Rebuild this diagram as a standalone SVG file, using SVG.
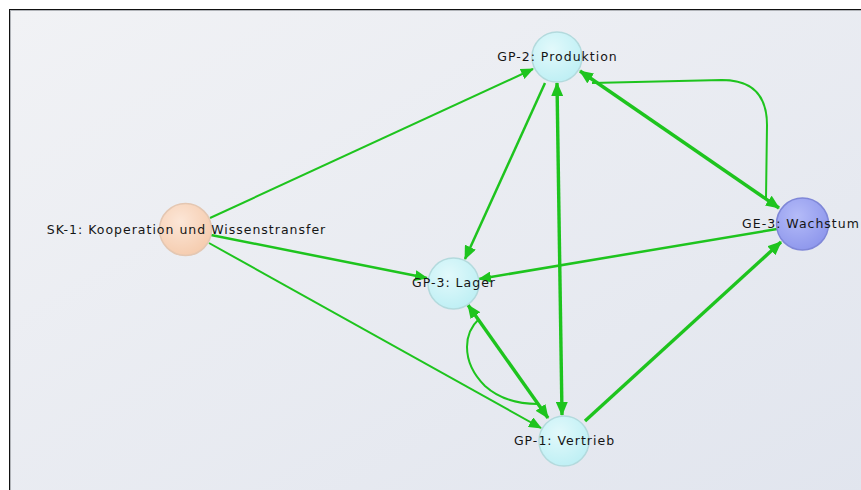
<svg xmlns="http://www.w3.org/2000/svg" width="861" height="490" viewBox="0 0 861 490">
<style>
.e{fill:none;stroke:#1ec41e;stroke-linejoin:round}
.t1{stroke-width:2}
.t2{stroke-width:2.5}
.t3{stroke-width:3.4}
.lbl{font-family:"DejaVu Sans",Verdana,sans-serif;font-size:12.5px;letter-spacing:1px;fill:#151515;text-anchor:middle}
.gp{fill:url(#gCyan);stroke:#b3dadd;stroke-width:1.5}
</style>
<defs>
<linearGradient id="bg" x1="0" y1="0" x2="1" y2="1">
<stop offset="0" stop-color="#f1f2f5"/>
<stop offset="1" stop-color="#e1e5ee"/>
</linearGradient>
<radialGradient id="gCyan" cx="0.4" cy="0.35" r="0.7">
<stop offset="0" stop-color="#e2f9fb"/>
<stop offset="1" stop-color="#bdeff4"/>
</radialGradient>
<radialGradient id="gPeach" cx="0.4" cy="0.35" r="0.7">
<stop offset="0" stop-color="#fce6d7"/>
<stop offset="1" stop-color="#f5cbad"/>
</radialGradient>
<radialGradient id="gBlue" cx="0.4" cy="0.35" r="0.7">
<stop offset="0" stop-color="#b4bbf8"/>
<stop offset="1" stop-color="#8d96ec"/>
</radialGradient>
<marker id="aL" markerUnits="userSpaceOnUse" markerWidth="15" markerHeight="12" refX="13" refY="6" orient="auto-start-reverse" viewBox="0 0 15 12">
<path d="M0,0 L14,6 L0,12 z" fill="#1ec41e"/>
</marker>
<marker id="aS" markerUnits="userSpaceOnUse" markerWidth="14" markerHeight="11" refX="12" refY="5.5" orient="auto-start-reverse" viewBox="0 0 14 11">
<path d="M0,0 L13,5.5 L0,11 z" fill="#1ec41e"/>
</marker>
</defs>
<rect x="0" y="0" width="861" height="490" fill="#ffffff"/>
<rect x="10" y="10" width="860" height="490" fill="url(#bg)"/>
<line x1="10" y1="10.5" x2="861" y2="10.5" stroke="#b0b3b8" stroke-width="1"/>
<line x1="10.5" y1="10" x2="10.5" y2="490" stroke="#b0b3b8" stroke-width="1"/>
<line x1="9" y1="9.5" x2="861" y2="9.5" stroke="#111" stroke-width="1"/>
<line x1="9.5" y1="9" x2="9.5" y2="490" stroke="#111" stroke-width="1"/>

<g id="connectors">
<line class="e t1" x1="210" y1="218" x2="533" y2="69" marker-end="url(#aS)"/>
<line class="e t2" x1="211" y1="235" x2="427" y2="278" marker-end="url(#aS)"/>
<line class="e t1" x1="209" y1="243" x2="541" y2="428" marker-end="url(#aS)"/>
<line class="e t2" x1="545" y1="83" x2="465" y2="259" marker-end="url(#aL)"/>
<line class="e t3" x1="557" y1="83" x2="562" y2="415" marker-start="url(#aL)" marker-end="url(#aL)"/>
<line class="e t3" x1="580" y1="71" x2="779" y2="208" marker-start="url(#aL)" marker-end="url(#aL)"/>
<path class="e t1" d="M766,198 L767,125 Q767,80 722,80 L592,83"/>
<line class="e t2" x1="777" y1="229" x2="479" y2="279" marker-end="url(#aS)"/>
<line class="e t3" x1="585" y1="421" x2="781" y2="242" marker-end="url(#aL)"/>
<line class="e t3" x1="468" y1="305" x2="548" y2="418" marker-start="url(#aL)" marker-end="url(#aL)"/>
<path class="e t1" d="M538,404 Q505,404 485,386 Q467,368 467,347 Q467,330 479,319"/>
</g>

<g id="node-sk1">
<circle cx="185.5" cy="229.5" r="26" fill="url(#gPeach)" stroke="#e4c7b2" stroke-width="1.5"/>
<text class="lbl" x="186.5" y="233.5">SK-1: Kooperation und Wissenstransfer</text>
</g>
<g id="node-gp2">
<circle class="gp" cx="557" cy="57" r="25"/>
<text class="lbl" x="557.5" y="60.5">GP-2: Produktion</text>
</g>
<g id="node-gp3">
<circle class="gp" cx="453.5" cy="283.5" r="25.5"/>
<text class="lbl" x="454" y="287">GP-3: Lager</text>
</g>
<g id="node-gp1">
<circle class="gp" cx="564" cy="441" r="25"/>
<text class="lbl" x="564.5" y="445">GP-1: Vertrieb</text>
</g>
<g id="node-ge3">
<circle cx="802.5" cy="224" r="26" fill="url(#gBlue)" stroke="#7f87d8" stroke-width="1.5"/>
<text class="lbl" x="801" y="228">GE-3: Wachstum</text>
</g>
</svg>
